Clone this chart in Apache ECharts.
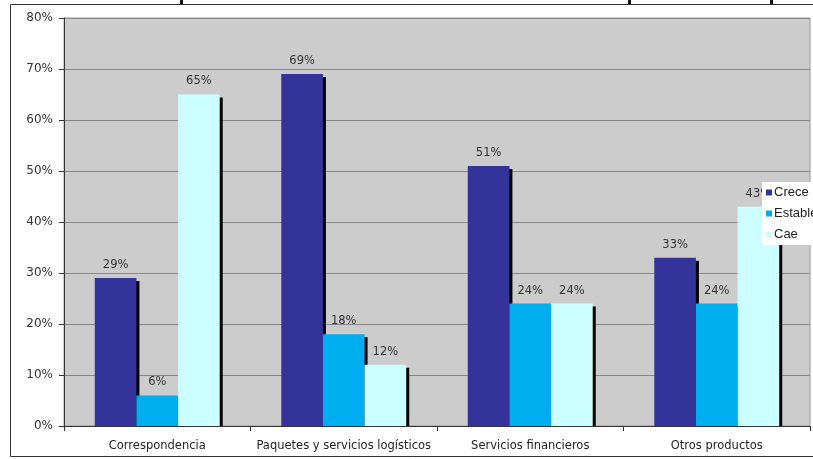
<!DOCTYPE html>
<html>
<head>
<meta charset="utf-8">
<script src="https://cdn.jsdelivr.net/npm/echarts@6/dist/echarts.min.js"></script>
<style>html,body{margin:0;padding:0;background:#fff;}#c{width:813px;height:459px;}</style>
</head>
<body>
<div id="c"></div>
<script>
const categories = ['Correspondencia', 'Paquetes y servicios logísticos', 'Servicios financieros', 'Otros productos'];
const seriesNames = ['Crece', 'Estable', 'Cae'];
const crece = [29, 69, 51, 33];
const estable = [6, 18, 24, 24];
const cae = [65, 12, 24, 43];
const colors = ['#333399', '#00aeef', '#ccffff'];

const chart = echarts.init(document.getElementById('c'), null, {renderer: 'canvas'});
const values = [crece, estable, cae];
const series = seriesNames.map((n, i) => ({
  name: n,
  type: 'bar',
  data: values[i],
  barGap: '0%',
  barCategoryGap: '33%',
  itemStyle: {color: colors[i], shadowColor: '#000', shadowOffsetX: 3, shadowOffsetY: 3, shadowBlur: 0},
  label: {show: true, position: 'top', distance: 7, formatter: '{c}%', color: '#333', fontFamily: 'DejaVu Sans', fontSize: 11.5},
  z: 2
}));

chart.setOption({
  animation: false,
  backgroundColor: '#fff',
  grid: {left: 64, right: 3, top: 18, bottom: 33, show: true, backgroundColor: '#cccccc', borderColor: '#999', borderWidth: 1},
  legend: {
    data: seriesNames,
    orient: 'vertical',
    left: 762, top: 182,
    backgroundColor: '#fff',
    padding: [4, 4, 4, 4],
    itemWidth: 6, itemHeight: 6,
    itemGap: 8,
    icon: 'rect',
    textStyle: {fontFamily: 'Liberation Sans', fontSize: 13, color: '#222', padding: [0, 0, 0, -3]},
    z: 10
  },
  xAxis: {
    type: 'category',
    data: categories,
    z: 5,
    axisLine: {lineStyle: {color: '#333', width: 1}},
    axisTick: {show: true, interval: 0, length: 5, lineStyle: {color: '#333'}},
    axisLabel: {interval: 0, color: '#222', fontFamily: 'DejaVu Sans', fontSize: 11.5, margin: 14}
  },
  yAxis: {
    type: 'value',
    min: 0, max: 80, interval: 10,
    axisLine: {show: true, lineStyle: {color: '#333'}},
    axisTick: {show: true, length: 5, lineStyle: {color: '#333'}},
    splitLine: {lineStyle: {color: '#888', width: 1}},
    axisLabel: {formatter: '{value}%', color: '#333', fontFamily: 'DejaVu Sans', fontSize: 12, margin: 11}
  },
  graphic: [
    {type: 'rect', shape: {x: 10.5, y: 4.5, width: 820, height: 452}, style: {fill: 'none', stroke: '#333', lineWidth: 1}, z: -1, silent: true},
    {type: 'rect', shape: {x: 65, y: 427, width: 750, height: 5}, style: {fill: '#fff'}, z: 4, silent: true},
    {type: 'rect', shape: {x: 180, y: 0, width: 3, height: 4}, style: {fill: '#111'}, silent: true},
    {type: 'rect', shape: {x: 628, y: 0, width: 3, height: 4}, style: {fill: '#111'}, silent: true},
    {type: 'rect', shape: {x: 770, y: 0, width: 3, height: 4}, style: {fill: '#111'}, silent: true}
  ],
  series: series
});
</script>
</body>
</html>
